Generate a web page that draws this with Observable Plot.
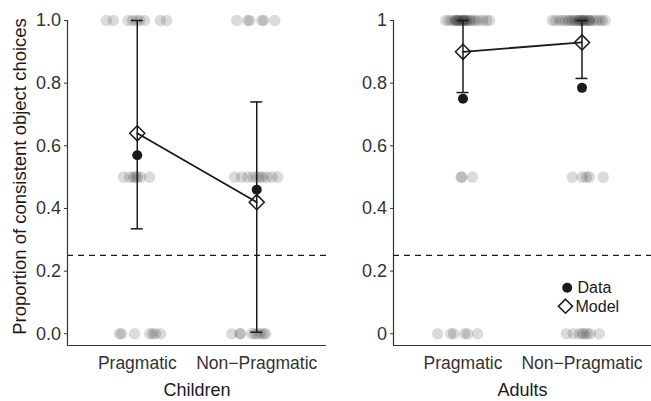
<!DOCTYPE html>
<html>
<head>
<meta charset="utf-8">
<script src="https://cdn.jsdelivr.net/npm/d3@7"></script>
<script src="https://cdn.jsdelivr.net/npm/@observablehq/plot@0.6"></script>
<style>
  body { margin: 0; background: #fff; }
  #chart { display: flex; width: 651px; height: 401px; overflow: hidden; font-family: "Liberation Sans", Arial, sans-serif; }
  #chart svg { display: block; flex: none; font-family: "Liberation Sans", Arial, sans-serif; }
</style>
</head>
<body>
<div id="chart"></div>
<script>
// Conditions on the x axis and the shared y axis
const conditions = ["Pragmatic", "Non\u2212Pragmatic"];
const yTicks = [0, 0.2, 0.4, 0.6, 0.8, 1];
const yTitle = "Proportion of consistent object choices";
const chanceLevel = 0.25;

// Individual participants: [condition (1 or 2), proportion, horizontal jitter of each participant]
const childrenResponses = [
  [1, 1.0, [-0.259, -0.201, -0.077, -0.039, -0.006, 0.019, 0.061, 0.192, 0.245]],
  [2, 1.0, [-0.167, -0.075, -0.059, 0.042, 0.059, 0.151]],
  [1, 0.5, [-0.115, -0.064, -0.031, -0.014, 0.003, 0.028, 0.103]],
  [2, 0.5, [-0.184, -0.126, -0.075, -0.033, 0, 0.025, 0.05, 0.084, 0.126, 0.176]],
  [1, 0.0, [-0.148, -0.131, -0.023, 0.103, 0.128, 0.153, 0.195]],
  [2, 0.0, [-0.209, -0.142, -0.135, -0.042, -0.017, 0.008, 0.033, 0.059, 0.075]]
];
const adultsResponses = [
  [1, 1.0, [-0.145, -0.120, -0.095, -0.069, -0.06, -0.053, -0.04, -0.036, -0.019, -0.003, 0.0, 0.014, 0.02,
            0.031, 0.048, 0.064, 0.081, 0.106, 0.131, 0.165, 0.198, 0.223]],
  [2, 1.0, [-0.249, -0.223, -0.19, -0.165, -0.14, -0.115, -0.098, -0.081, -0.064, -0.048, -0.031, -0.014,
            0.003, 0.019, 0.036, 0.053, 0.069, 0.095, 0.12, 0.145, 0.17, 0.195, -0.02, 0.01, 0.06]],
  [1, 0.5, [-0.015, -0.01, 0.079]],
  [2, 0.5, [-0.081, 0.003, 0.037, 0.062, 0.178]],
  [1, 0.0, [-0.212, -0.103, -0.078, 0.014, 0.039, 0.123]],
  [2, 0.0, [-0.131, -0.073, -0.023, 0.003, 0.019, 0.044, 0.069, 0.145]]
];

// Condition means (Data) and model predictions with their intervals
const childrenData  = [0.57, 0.46];
const childrenModel = [0.64, 0.42];
const childrenLower = [0.335, 0.005];
const childrenUpper = [1.0, 0.74];

const adultsData  = [0.75, 0.785];
const adultsModel = [0.90, 0.93];
const adultsLower = [0.77, 0.815];
const adultsUpper = [1.0, 1.0];

// Legend entries
const legendLabels  = ["Data", "Model"];
const legendSymbols = ["circle", "diamond2"];

const xDomain = [0.416, 2.584];
const yDomain = [-0.0375, 1];
const ink = "#1a1a1a";

function panel({title, responses, data, model, lower, upper, tickFormat, width, withYTitle, withLegend}) {
  const points = responses.flatMap(([cond, value, jitter]) =>
    jitter.map(j => ({x: cond + j, y: value})));
  const summary = conditions.map((c, i) => ({
    x: i + 1, data: data[i], model: model[i], lo: lower[i], hi: upper[i]
  }));

  const marks = [
    // participants
    Plot.dot(points, {x: "x", y: "y", r: 5.8, fill: "#000", fillOpacity: 0.14}),
    // chance level
    Plot.ruleY([chanceLevel], {x1: xDomain[0], x2: xDomain[1], stroke: ink, strokeWidth: 1.2, strokeDasharray: "6,5"}),
    // axis lines
    Plot.ruleX([xDomain[0]], {y1: yDomain[0], y2: 1, stroke: "#333", strokeWidth: 1.2}),
    Plot.ruleY([yDomain[0]], {x1: xDomain[0], x2: xDomain[1], stroke: "#333", strokeWidth: 1.2}),
    // model intervals
    Plot.ruleX(summary, {x: "x", y1: "lo", y2: "hi", stroke: ink, strokeWidth: 1.5}),
    Plot.ruleY(summary, {y: "lo", x1: "x", x2: "x", insetLeft: -6, insetRight: -6, stroke: ink, strokeWidth: 1.5}),
    Plot.ruleY(summary, {y: "hi", x1: "x", x2: "x", insetLeft: -6, insetRight: -6, stroke: ink, strokeWidth: 1.5}),
    // model line and diamonds
    Plot.line(summary, {x: "x", y: "model", stroke: ink, strokeWidth: 1.8}),
    Plot.dot(summary, {x: "x", y: "model", symbol: "diamond2", r: 6.8, fill: "none", stroke: ink, strokeWidth: 1.5}),
    // observed means
    Plot.dot(summary, {x: "x", y: "data", r: 5, fill: ink}),
    // axes
    Plot.axisY({ticks: yTicks, tickFormat, tickSize: 3, tickPadding: 3.5, fontSize: 18, color: "#333", label: null}),
    Plot.axisX({ticks: [1, 2], tickFormat: d => conditions[d - 1], tickSize: 0, tickPadding: 11, fontSize: 17.5, color: "#333", label: null}),
    Plot.text([title], {frameAnchor: "bottom", lineAnchor: "middle", dy: 45, fontSize: 18, fill: ink})
  ];
  if (withYTitle) {
    marks.push(Plot.text([yTitle], {frameAnchor: "left", textAnchor: "middle", lineAnchor: "middle", rotate: -90, dx: -47, dy: -6.5, fontSize: 18.5, fill: ink}));
  }
  if (withLegend) {
    marks.push(
      Plot.dot([legendSymbols[0]], {frameAnchor: "bottom-right", dx: -84.3, dy: -57.7, r: 5, fill: ink}),
      Plot.dot([legendSymbols[1]], {frameAnchor: "bottom-right", dx: -86, dy: -39.3, symbol: legendSymbols[1], r: 6.3, fill: "none", stroke: ink, strokeWidth: 1.6}),
      Plot.text([legendLabels[0]], {frameAnchor: "bottom-right", textAnchor: "start", lineAnchor: "middle", dx: -74, dy: -57.5, fontSize: 16, fill: ink}),
      Plot.text([legendLabels[1]], {frameAnchor: "bottom-right", textAnchor: "start", lineAnchor: "middle", dx: -76, dy: -38.5, fontSize: 16, fill: ink})
    );
  }
  return Plot.plot({
    width,
    height: 401,
    marginLeft: 67,
    marginRight: 0,
    marginTop: 20,
    marginBottom: 56,
    style: {fontFamily: "'Liberation Sans', Arial, sans-serif", background: "#fff", overflow: "visible"},
    x: {domain: xDomain},
    y: {domain: yDomain},
    marks
  });
}

const chart = document.getElementById("chart");
chart.append(panel({
  title: "Children", responses: childrenResponses,
  data: childrenData, model: childrenModel, lower: childrenLower, upper: childrenUpper,
  tickFormat: d => d.toFixed(1), width: 326, withYTitle: true, withLegend: false
}));
chart.append(panel({
  title: "Adults", responses: adultsResponses,
  data: adultsData, model: adultsModel, lower: adultsLower, upper: adultsUpper,
  tickFormat: d => String(d), width: 325, withYTitle: false, withLegend: true
}));
</script>
</body>
</html>
